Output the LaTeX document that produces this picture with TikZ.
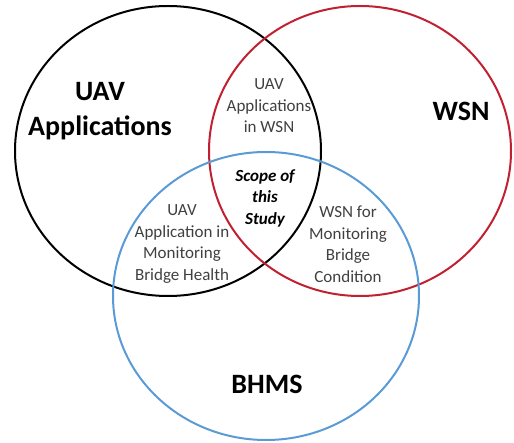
\documentclass[tikz,border=0pt]{standalone}
\usepackage{fontspec}
\setmainfont{Carlito}
\definecolor{setred}{RGB}{192,32,48}
\definecolor{setblue}{RGB}{91,155,213}
\definecolor{labelgray}{RGB}{64,64,64}
\tikzset{
	setline/.style={line width=2pt},
	biglabel/.style={inner sep=0pt, align=center, font=\fontsize{28}{35}\selectfont\bfseries},
	smalllabel/.style={inner sep=0pt, align=center, text=labelgray, font=\fontsize{17}{21.5}\selectfont},
}

\begin{document}
\begin{tikzpicture}[x=1pt,y=-1pt]
	\useasboundingbox (0,0) rectangle (514,443);
	\draw [setline, black] (168,151) ellipse [x radius=153, y radius=145];
	\draw [setline, setred] (360,151) ellipse [x radius=151, y radius=145];
	\draw [setline, setblue] (266,296) ellipse [x radius=153, y radius=144];
	\node (uav) [biglabel] at (100,111) {UAV\\Applications};
	\node (wsn) [biglabel] at (461,111) {WSN};
	\node (bhms) [biglabel] at (267,384) {BHMS};
	\node (uavwsn) [smalllabel] at (269,106) {UAV\\Applications\\in WSN};
	\node (uavbridge) [smalllabel] at (182,244) {UAV\\Application in\\Monitoring\\Bridge Health};
	\node (wsnbridge) [smalllabel] at (348,244) {WSN for\\Monitoring\\Bridge\\Condition};
	\node (scope) [smalllabel, text=black, font=\fontsize{17}{21.5}\selectfont\bfseries\itshape] at (265,198) {Scope of\\this\\Study};
\end{tikzpicture}
\end{document}
